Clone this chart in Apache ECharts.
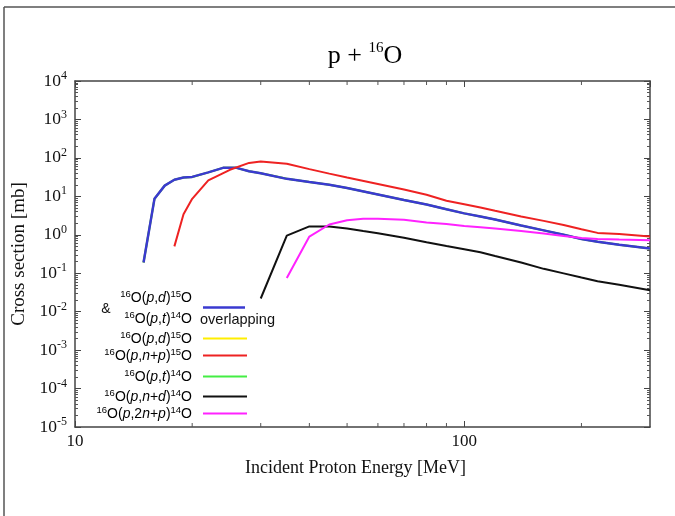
<!DOCTYPE html>
<html>
<head>
<meta charset="UTF-8">
<title>p + 16O</title>
<script src="https://cdn.jsdelivr.net/npm/echarts@6/dist/echarts.min.js"></script>
</head>
<body style="margin:0">
<div id="main" style="width:675px;height:516px;"></div>
<script type="text/javascript">

// energies (MeV) and cross sections (mb)
var eBlue = [15, 16, 17, 18, 19, 20, 22, 24, 26, 28, 30, 35, 40, 45, 50, 60, 70, 80, 90, 100, 110, 120, 140, 160, 180, 200, 220, 250, 300];
var sBlue = [0.19, 8.6, 19, 27, 31, 32, 42, 55, 55, 45, 40, 28.5, 23.5, 20, 16.5, 11.2, 8, 6.1, 4.6, 3.6, 3.0, 2.5, 1.75, 1.3, 1.0, 0.78, 0.66, 0.55, 0.44];

var eRed = [18, 19, 20, 22, 25, 28, 30, 35, 40, 45, 50, 60, 70, 80, 90, 100, 110, 120, 140, 160, 180, 200, 220, 250, 300];
var sRed = [0.5, 3.4, 8.6, 26, 49, 74, 81, 70, 51, 39, 31, 21, 15, 11, 7.7, 6.2, 5.1, 4.2, 3.0, 2.3, 1.8, 1.4, 1.12, 1.05, 0.9];

var eBlack = [30, 35, 40, 45, 50, 55, 60, 70, 80, 90, 100, 110, 120, 140, 160, 180, 200, 220, 250, 300];
var sBlack = [0.022, 0.95, 1.65, 1.65, 1.45, 1.25, 1.1, 0.84, 0.64, 0.51, 0.42, 0.35, 0.28, 0.19, 0.13, 0.099, 0.077, 0.062, 0.05, 0.036];

var eMag = [35, 40, 45, 50, 55, 60, 70, 80, 90, 100, 110, 120, 140, 160, 180, 200, 220, 250, 300];
var sMag = [0.075, 0.9, 1.85, 2.4, 2.6, 2.6, 2.45, 2.1, 1.9, 1.7, 1.57, 1.45, 1.25, 1.08, 0.93, 0.82, 0.78, 0.75, 0.72];

// legend entries: [mass number, reaction, residual mass number, colour]
var legendRows = [
    ['16', 'p,d', '15', '#ffee00'],
    ['16', 'p,n+p', '15', '#ee2222'],
    ['16', 'p,t', '14', '#44ee44'],
    ['16', 'p,n+d', '14', '#111111'],
    ['16', 'p,2n+p', '14', '#ff22ff']
];

var xMinorTicks = [20, 30, 40, 50, 60, 70, 80, 90, 200];

var blue = '#3a3ad0';
var serif = 'Liberation Serif';
var sans = 'Liberation Sans';
var yMin = 1e-5, yMax = 1e4;

function pairs(e, s) {
    return e.map(function (v, i) { return [v, s[i]]; });
}

// 16O(p,d)15O style rich string
function reac(a, r, b) {
    var out = '{s|' + a + '}{n|O(}';
    r.split('').forEach(function (c) {
        out += /[pndt]/.test(c) ? '{i|' + c + '}' : '{n|' + c + '}';
    });
    return out + '{n|)}{s|' + b + '}{n|O}';
}

var legendRich = {
    n: {fontFamily: sans, fontSize: 14, color: '#111', lineHeight: 18},
    i: {fontFamily: sans, fontSize: 14, fontStyle: 'italic', color: '#111', lineHeight: 18},
    s: {fontFamily: sans, fontSize: 9.5, color: '#111', verticalAlign: 'top', lineHeight: 18}
};

var graphics = [
    {type: 'line', shape: {x1: 4, y1: 7, x2: 675, y2: 7}, style: {stroke: '#555', lineWidth: 1.5}},
    {type: 'line', shape: {x1: 4, y1: 7, x2: 4, y2: 516}, style: {stroke: '#555', lineWidth: 1.5}},
    {type: 'text', x: 365, y: 56, style: {
        text: '{n|p + }{s|16}{n|O}', align: 'center', verticalAlign: 'middle',
        rich: {
            n: {fontFamily: serif, fontSize: 26, color: '#111', lineHeight: 30},
            s: {fontFamily: serif, fontSize: 15, color: '#111', verticalAlign: 'top', lineHeight: 30}
        }
    }},
    // overlapping entry
    {type: 'text', x: 192, y: 298, style: {text: reac('16', 'p,d', '15'), align: 'right', verticalAlign: 'middle', rich: legendRich}},
    {type: 'text', x: 106, y: 309, style: {text: '&', align: 'center', verticalAlign: 'middle', fontFamily: sans, fontSize: 14, fill: '#111'}},
    {type: 'text', x: 192, y: 319, style: {text: reac('16', 'p,t', '14'), align: 'right', verticalAlign: 'middle', rich: legendRich}},
    {type: 'text', x: 200, y: 320, style: {text: 'overlapping', align: 'left', verticalAlign: 'middle', fontFamily: sans, fontSize: 14.5, fill: '#111'}},
    {type: 'line', shape: {x1: 203, y1: 307.5, x2: 245, y2: 307.5}, style: {stroke: blue, lineWidth: 2.5}}
];

var legendY = [339, 356, 377, 397, 414];
legendRows.forEach(function (r, k) {
    graphics.push({type: 'text', x: 192, y: legendY[k], style: {text: reac(r[0], r[1], r[2]), align: 'right', verticalAlign: 'middle', rich: legendRich}});
    graphics.push({type: 'line', shape: {x1: 203, y1: legendY[k] - 0.5, x2: 247, y2: legendY[k] - 0.5}, style: {stroke: r[3], lineWidth: 2}});
});

function line(name, data, color, width, z) {
    return {
        name: name, type: 'line', data: data, showSymbol: false, symbol: 'none',
        lineStyle: {color: color, width: width}, itemStyle: {color: color},
        z: z, animation: false
    };
}

var axisLine = {show: true, lineStyle: {color: '#444', width: 1.5}};

var option = {
    animation: false,
    backgroundColor: '#fff',
    grid: {left: 75, right: 25, top: 81, bottom: 89},
    xAxis: [
        {
            type: 'log', min: 10, max: 300, splitNumber: 1, position: 'bottom',
            axisLine: axisLine, splitLine: {show: false},
            axisTick: {inside: true, length: 6, lineStyle: {color: '#444'}},
            axisLabel: {
                margin: 6, fontFamily: serif, fontSize: 17, color: '#111', showMaxLabel: false,
                formatter: function (v) { return (v < 11 || (v > 99 && v < 101)) ? String(Math.round(v)) : ''; }
            },
            name: 'Incident Proton Energy [MeV]', nameLocation: 'middle', nameGap: 32,
            nameTextStyle: {fontFamily: serif, fontSize: 18, color: '#111', padding: [0, 14, 0, 0]}
        },
        {
            type: 'log', min: 10, max: 300, splitNumber: 1, position: 'top',
            axisLine: axisLine, splitLine: {show: false},
            axisTick: {inside: true, length: 6, lineStyle: {color: '#444'}},
            axisLabel: {show: false}
        }
    ],
    yAxis: [
        {
            type: 'log', min: yMin, max: yMax, splitNumber: 9, position: 'left',
            axisLine: axisLine, splitLine: {show: false},
            axisTick: {inside: true, length: 6, lineStyle: {color: '#444'}},
            minorTick: {show: true, splitNumber: 9, length: 3, lineStyle: {color: '#555'}},
            axisLabel: {
                margin: 8,
                formatter: function (v) {
                    return '{b|10}{s|' + Math.round(Math.log(v) / Math.LN10) + '}';
                },
                rich: {
                    b: {fontFamily: serif, fontSize: 17.5, color: '#111', lineHeight: 22},
                    s: {fontFamily: serif, fontSize: 12, color: '#111', verticalAlign: 'top', lineHeight: 22}
                }
            },
            name: 'Cross section [mb]', nameLocation: 'middle', nameGap: 46, nameRotate: 90,
            nameTextStyle: {fontFamily: serif, fontSize: 19, color: '#111'}
        },
        {
            type: 'log', min: yMin, max: yMax, splitNumber: 9, position: 'right',
            axisLine: axisLine, splitLine: {show: false},
            axisTick: {inside: true, length: 6, lineStyle: {color: '#444'}},
            minorTick: {show: true, splitNumber: 9, length: 3, lineStyle: {color: '#555'}},
            axisLabel: {show: false}
        }
    ],
    legend: {show: false},
    graphic: graphics,
    series: [
        line('16O(p,d)15O', pairs(eBlue, sBlue), '#ffee00', 2, 2),
        line('16O(p,t)14O', pairs(eBlue, sBlue), '#44ee44', 2, 2),
        line('16O(p,d)15O & 16O(p,t)14O', pairs(eBlue, sBlue), blue, 2.5, 3),
        line('16O(p,n+p)15O', pairs(eRed, sRed), '#ee2222', 2, 4),
        line('16O(p,n+d)14O', pairs(eBlack, sBlack), '#111111', 2, 4),
        line('16O(p,2n+p)14O', pairs(eMag, sMag), '#ff22ff', 2, 5),
        {
            type: 'custom', silent: true, clip: false, z: 6,
            data: xMinorTicks.map(function (v) { return [v, yMin]; }),
            renderItem: function (params, api) {
                var b = api.coord([api.value(0), yMin]);
                var t = api.coord([api.value(0), yMax]);
                return {type: 'group', children: [
                    {type: 'line', shape: {x1: b[0], y1: b[1], x2: b[0], y2: b[1] - 4}, style: {stroke: '#555', lineWidth: 1}},
                    {type: 'line', shape: {x1: t[0], y1: t[1], x2: t[0], y2: t[1] + 4}, style: {stroke: '#555', lineWidth: 1}}
                ]};
            }
        }
    ]
};

var myChart = echarts.init(document.getElementById('main'));
myChart.setOption(option);
</script>
</body>
</html>
